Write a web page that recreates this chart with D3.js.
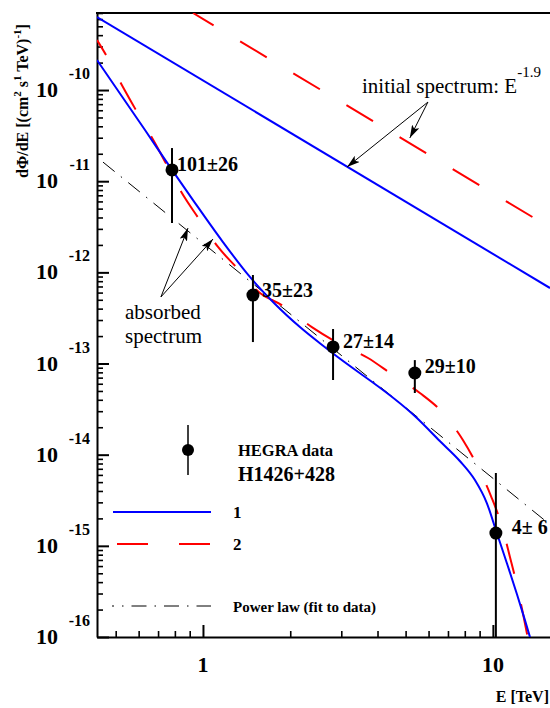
<!DOCTYPE html>
<html>
<head>
<meta charset="utf-8">
<script src="https://cdn.jsdelivr.net/npm/d3@7"></script>
<style>
  body { margin: 0; background: #fff; }
  text { font-family: "Liberation Serif", "Times New Roman", serif; }
</style>
</head>
<body>
<div id="chart"></div>
<script>
// frame size and plot box
const FRAME_WIDTH = 550;
const FRAME_HEIGHT = 708;
const MARGINS = {left: 97, right: 0, top: 13, bottom: 71};

// HEGRA data points (energy in TeV, flux in cm^-2 s^-1 TeV^-1)
const E_DATA = [0.782, 1.487, 2.81, 5.38, 10.24];
const F_DATA = [1.33e-11, 5.64e-13, 1.52e-13, 7.87e-14, 1.38e-15];
const F_UP = [2.31e-11, 9.35e-13, 2.39e-13, 1.09e-13, 6.3e-15];
const F_LO = [3.48e-12, 1.72e-13, 6.59e-14, 4.75e-14, 0];
const EVENT_LABELS = ["101\u00b126", "35\u00b123", "27\u00b114", "29\u00b110", "4\u00b1 6"];

// model 1 (blue): initial and absorbed spectrum
const E_INIT1 = [0.431, 15.74];
const F_INIT1 = [6.32e-10, 6.73e-13];
const E_ABS1 = [0.431, 0.631, 0.782, 0.924, 1.172, 1.452, 1.772, 2.16, 2.74, 5.47, 6.56, 7.69, 8.67, 9.53, 10.32, 11.17, 12.1, 12.89, 13.52];
const F_ABS1 = [2.13e-10, 3.64e-11, 1.33e-11, 6.21e-12, 2.15e-12, 8.9e-13, 4.5e-13, 2.51e-13, 1.37e-13, 2.52e-14, 1.41e-14, 8.53e-15, 5.27e-15, 2.95e-15, 1.38e-15, 6.49e-16, 2.96e-16, 1.54e-16, 9.27e-17];

// model 2 (red dashed): initial and absorbed spectrum
const E_INIT2 = [0.924, 15.74];
const F_INIT2 = [7.0e-10, 3.1e-12];
const E_ABS2 = [0.431, 0.463, 0.521, 0.587, 0.683, 0.751, 0.846, 0.969, 1.127, 1.31, 1.573, 1.87, 2.375, 2.92, 3.71, 4.52, 5.6, 6.73, 7.88, 8.81, 9.85, 10.74, 11.45, 12.1, 12.69, 13.2];
const F_ABS2 = [3.53e-10, 2.42e-10, 1.19e-10, 6.04e-11, 2.62e-11, 1.5e-11, 7.41e-12, 3.85e-12, 1.9e-12, 1.12e-12, 5.93e-13, 4.38e-13, 2.51e-13, 1.68e-13, 1.15e-13, 7.48e-14, 4.75e-14, 2.86e-14, 1.45e-14, 7.7e-15, 3.52e-15, 1.65e-15, 7.55e-16, 3.72e-16, 1.83e-16, 9.75e-17];

// power law fit to the data
const E_PL = [0.452, 15.74];
const F_PL = [1.62e-11, 1.71e-15];

// axes
const X_DOMAIN = [0.431, 15.74];
const Y_DOMAIN = [1e-16, 7.0e-10];
const X_LABELS = [1, 10];
const Y_EXPONENTS = [-16, -15, -14, -13, -12, -11, -10];

const BLUE = "#0000ff";
const RED = "#ff0000";

const FRAME = d3.select("#chart")
  .append("svg")
    .attr("width", FRAME_WIDTH)
    .attr("height", FRAME_HEIGHT);

const x = d3.scaleLog().domain(X_DOMAIN).range([MARGINS.left, FRAME_WIDTH - MARGINS.right]);
const y = d3.scaleLog().domain(Y_DOMAIN).range([FRAME_HEIGHT - MARGINS.bottom, MARGINS.top]);

const zip = (es, fs) => es.map((e, i) => [e, fs[i]]);

const defs = FRAME.append("defs");
defs.append("clipPath").attr("id", "plot")
  .append("rect")
    .attr("x", MARGINS.left).attr("y", MARGINS.top)
    .attr("width", FRAME_WIDTH - MARGINS.left - MARGINS.right)
    .attr("height", FRAME_HEIGHT - MARGINS.top - MARGINS.bottom);

defs.append("marker")
    .attr("id", "head")
    .attr("viewBox", "0 0 13 8")
    .attr("refX", 13).attr("refY", 4)
    .attr("markerWidth", 13).attr("markerHeight", 8)
    .attr("markerUnits", "userSpaceOnUse")
    .attr("orient", "auto")
  .append("path").attr("d", "M0,0 L13,4 L0,8 L3,4 Z").attr("fill", "#000");

// ---- axes ----
const isDecade = v => Math.abs(Math.log10(v) - Math.round(Math.log10(v))) < 1e-6;
const minorY = y.ticks().filter(v => !isDecade(v));
const majorY = Y_EXPONENTS.map(p => Math.pow(10, p));
const minorX = x.ticks().filter(v => !isDecade(v));

FRAME.append("g").attr("transform", "translate(" + MARGINS.left + ",0)")
  .call(d3.axisLeft(y).tickValues(minorY).tickSize(-6).tickSizeOuter(0).tickFormat(""))
  .call(g => g.selectAll("line").attr("stroke-width", 1.6))
  .call(g => g.select(".domain").attr("stroke-width", 2));
FRAME.append("g").attr("transform", "translate(" + MARGINS.left + ",0)")
  .call(d3.axisLeft(y).tickValues(majorY).tickSize(-12).tickSizeOuter(0).tickFormat(""))
  .call(g => g.selectAll("line").attr("stroke-width", 2))
  .call(g => g.select(".domain").remove());

const yBottom = FRAME_HEIGHT - MARGINS.bottom;
FRAME.append("g").attr("transform", "translate(0," + yBottom + ")")
  .call(d3.axisBottom(x).tickValues(minorX).tickSize(-6).tickSizeOuter(0).tickFormat(""))
  .call(g => g.selectAll("line").attr("stroke-width", 1.6))
  .call(g => g.select(".domain").attr("stroke-width", 2));
FRAME.append("g").attr("transform", "translate(0," + yBottom + ")")
  .call(d3.axisBottom(x).tickValues(X_LABELS).tickSize(-12).tickSizeOuter(0).tickFormat(""))
  .call(g => g.selectAll("line").attr("stroke-width", 2))
  .call(g => g.select(".domain").remove());

// top border
FRAME.append("line")
  .attr("x1", MARGINS.left - 1).attr("x2", FRAME_WIDTH)
  .attr("y1", MARGINS.top).attr("y2", MARGINS.top)
  .attr("stroke", "#000").attr("stroke-width", 2);

// y tick labels 10^n
const yLab = FRAME.append("g").attr("font-weight", "bold");
Y_EXPONENTS.forEach(p => {
  const py = y(Math.pow(10, p));
  yLab.append("text").attr("x", 58).attr("y", py + 7)
    .attr("text-anchor", "end").attr("font-size", 22).text("10");
  yLab.append("text").attr("x", 90).attr("y", py - 11)
    .attr("text-anchor", "end").attr("font-size", 16).text(p);
});

// x tick labels
FRAME.append("g").selectAll("text").data(X_LABELS).enter()
  .append("text")
    .attr("x", d => x(d)).attr("y", 672)
    .attr("text-anchor", "middle").attr("font-size", 22).attr("font-weight", "bold")
    .text(d => d);

// axis titles
FRAME.append("text")
  .attr("x", 549).attr("y", 702).attr("text-anchor", "end")
  .attr("font-size", 16).attr("font-weight", "bold").text("E [TeV]");

const yTitle = FRAME.append("text")
  .attr("transform", "translate(28,101) rotate(-90)")
  .attr("text-anchor", "middle").attr("font-size", 16).attr("font-weight", "bold");
yTitle.append("tspan").text("d\u03a6/dE [(cm");
yTitle.append("tspan").attr("font-size", 11).attr("dy", -7).text("2");
yTitle.append("tspan").attr("dy", 7).text(" s");
yTitle.append("tspan").attr("font-size", 11).attr("dy", -7).text("1");
yTitle.append("tspan").attr("dy", 7).text(" TeV)");
yTitle.append("tspan").attr("font-size", 11).attr("dy", -7).text("-1");
yTitle.append("tspan").attr("dy", 7).text("]");

// ---- curves ----
const line = d3.line().x(d => x(d[0])).y(d => y(d[1])).curve(d3.curveMonotoneX);
const curves = FRAME.append("g").attr("clip-path", "url(#plot)").attr("fill", "none");

curves.append("path").attr("d", line(zip(E_PL, F_PL)))
  .attr("stroke", "#000").attr("stroke-width", 1)
  .attr("stroke-dasharray", "15,8,1.5,8");

curves.append("path").attr("d", line(zip(E_INIT2, F_INIT2)))
  .attr("stroke", RED).attr("stroke-width", 2)
  .attr("stroke-dasharray", "31,31").attr("stroke-dashoffset", 7);
curves.append("path").attr("d", line(zip(E_ABS2, F_ABS2)))
  .attr("stroke", RED).attr("stroke-width", 2)
  .attr("stroke-dasharray", "31,31").attr("stroke-dashoffset", 13.5);

curves.append("path").attr("d", line(zip(E_INIT1, F_INIT1)))
  .attr("stroke", BLUE).attr("stroke-width", 2);
curves.append("path").attr("d", line(zip(E_ABS1, F_ABS1)))
  .attr("stroke", BLUE).attr("stroke-width", 2);

// ---- data points ----
const pts = FRAME.append("g");
pts.selectAll("line").data(E_DATA).enter()
  .append("line")
    .attr("x1", d => x(d)).attr("x2", d => x(d))
    .attr("y1", (d, i) => y(F_UP[i]))
    .attr("y2", (d, i) => y(Math.max(F_LO[i], Y_DOMAIN[0])))
    .attr("stroke", "#000").attr("stroke-width", 2);
pts.selectAll("circle").data(E_DATA).enter()
  .append("circle")
    .attr("cx", d => x(d)).attr("cy", (d, i) => y(F_DATA[i]))
    .attr("r", 6.5).attr("fill", "#000");

const LABEL_DX = [5, 9, 10, 10, 16];
const LABEL_DY = [1, 2, 1, 0, 1];
pts.selectAll("text").data(E_DATA).enter()
  .append("text")
    .attr("x", (d, i) => x(d) + LABEL_DX[i])
    .attr("y", (d, i) => y(F_DATA[i]) + LABEL_DY[i])
    .attr("font-size", 20).attr("font-weight", "bold")
    .text((d, i) => EVENT_LABELS[i]);

// ---- annotations ----
const ann = FRAME.append("g");
const initText = ann.append("text").attr("x", 362).attr("y", 93).attr("font-size", 21);
initText.append("tspan").text("initial spectrum: E");
initText.append("tspan").attr("font-size", 15).attr("dy", -16).text("-1.9");

// arrows to the initial spectra (tips on the curves, in data units)
const initFrom = [5.97, 7.38e-11];
[[3.14, 1.43e-11], [5.17, 2.98e-11]].forEach(t => {
  ann.append("line")
    .attr("x1", x(initFrom[0])).attr("y1", y(initFrom[1]))
    .attr("x2", x(t[0])).attr("y2", y(t[1]))
    .attr("stroke", "#000").attr("stroke-width", 1)
    .attr("marker-end", "url(#head)");
});

ann.append("text").attr("x", 125).attr("y", 319).attr("font-size", 21).text("absorbed");
ann.append("text").attr("x", 125).attr("y", 343).attr("font-size", 21).text("spectrum");
const absFrom = [0.716, 5.37e-13];
[[0.888, 3.06e-12], [1.083, 2.32e-12]].forEach(t => {
  ann.append("line")
    .attr("x1", x(absFrom[0])).attr("y1", y(absFrom[1]))
    .attr("x2", x(t[0])).attr("y2", y(t[1]))
    .attr("stroke", "#000").attr("stroke-width", 1)
    .attr("marker-end", "url(#head)");
});

// ---- legend ----
const leg = FRAME.append("g");
leg.append("line").attr("x1", 188).attr("x2", 188).attr("y1", 425).attr("y2", 475)
  .attr("stroke", "#000").attr("stroke-width", 1.5);
leg.append("circle").attr("cx", 188).attr("cy", 450).attr("r", 6).attr("fill", "#000");
leg.append("text").attr("x", 238).attr("y", 456).attr("font-size", 16.5).attr("font-weight", "bold").text("HEGRA data");
leg.append("text").attr("x", 238).attr("y", 481).attr("font-size", 20).attr("font-weight", "bold").text("H1426+428");

leg.append("line").attr("x1", 113).attr("x2", 211).attr("y1", 512).attr("y2", 512)
  .attr("stroke", BLUE).attr("stroke-width", 2);
leg.append("text").attr("x", 233).attr("y", 518).attr("font-size", 17).attr("font-weight", "bold").text("1");

leg.append("line").attr("x1", 117).attr("x2", 211).attr("y1", 544).attr("y2", 544)
  .attr("stroke", RED).attr("stroke-width", 2).attr("stroke-dasharray", "31,31");
leg.append("text").attr("x", 233).attr("y", 550).attr("font-size", 17).attr("font-weight", "bold").text("2");

leg.append("line").attr("x1", 112).attr("x2", 211).attr("y1", 606).attr("y2", 606)
  .attr("stroke", "#000").attr("stroke-width", 1)
  .attr("stroke-dasharray", "15,8,1.5,8").attr("stroke-dashoffset", 13);
leg.append("text").attr("x", 233).attr("y", 612).attr("font-size", 15).attr("font-weight", "bold").text("Power law (fit to data)");
</script>
</body>
</html>
